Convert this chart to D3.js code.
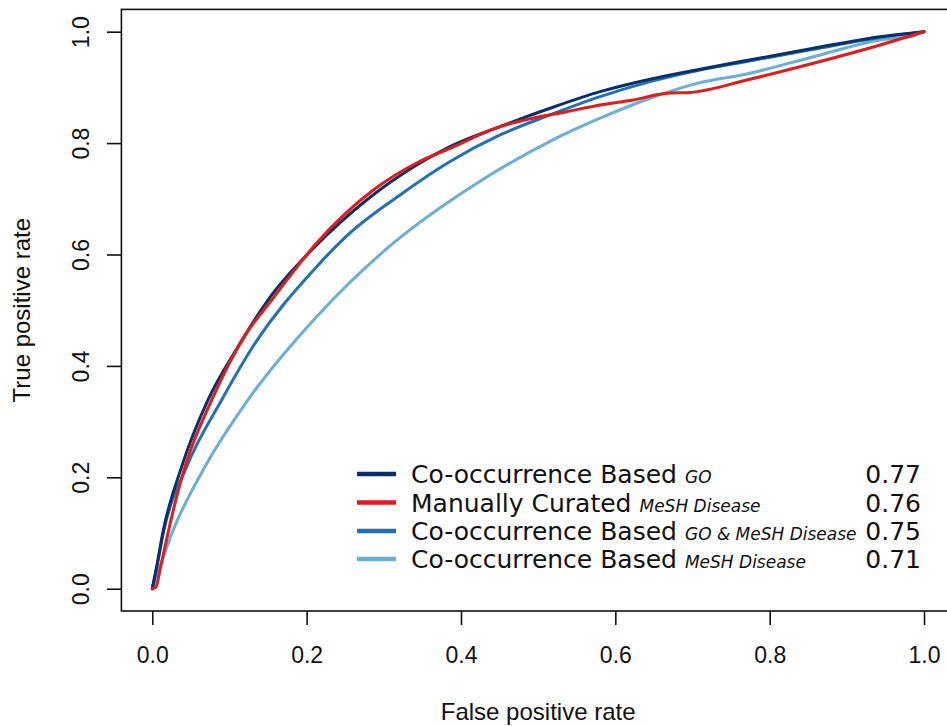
<!DOCTYPE html>
<html>
<head>
<meta charset="utf-8">
<script src="https://cdn.jsdelivr.net/npm/d3@7"></script>
<style>
  body { margin: 0; background: #fff; }
  svg { display: block; }
</style>
</head>
<body>
<script>
// ROC curves: false positive rate (x) vs true positive rate (y) per method
const goFpr   = [0, 0.0057, 0.0135, 0.0381, 0.0722, 0.1101, 0.1499, 0.2130, 0.2778, 0.3426, 0.3858, 0.4506, 0.5154, 0.5802, 0.6450, 0.7098, 0.7703, 0.8566, 0.9430, 1];
const goTpr   = [0, 0.0397, 0.0996, 0.2192, 0.3389, 0.4322, 0.5183, 0.6171, 0.6979, 0.7607, 0.7936, 0.8295, 0.8625, 0.8923, 0.9146, 0.9325, 0.9483, 0.9702, 0.9910, 1];

const curFpr  = [0, 0.0048, 0.0109, 0.0203, 0.0350, 0.0424, 0.0770, 0.1223, 0.1547, 0.2130, 0.2864, 0.3426, 0.3858, 0.4506, 0.4933, 0.5370, 0.5802, 0.6229, 0.6666, 0.6968, 0.7703, 0.8566, 0.9430, 0.9819, 1];
const curTpr  = [0, 0.0032, 0.0397, 0.0996, 0.1833, 0.2192, 0.3389, 0.4592, 0.5183, 0.6207, 0.7158, 0.7643, 0.7907, 0.8295, 0.8446, 0.8564, 0.8685, 0.8774, 0.8894, 0.8909, 0.9133, 0.9433, 0.9761, 0.9923, 1];

const bothFpr = [0, 0.0061, 0.0143, 0.0446, 0.0899, 0.1292, 0.2130, 0.2562, 0.3210, 0.3858, 0.4506, 0.5154, 0.5802, 0.6450, 0.7098, 0.7703, 0.8566, 0.9430, 1];
const bothTpr = [0, 0.0397, 0.0996, 0.2192, 0.3389, 0.4322, 0.5782, 0.6387, 0.7069, 0.7670, 0.8146, 0.8505, 0.8833, 0.9103, 0.9313, 0.9465, 0.9684, 0.9896, 1];

const meshFpr = [0, 0.0100, 0.0255, 0.0683, 0.1240, 0.2130, 0.2993, 0.4247, 0.5154, 0.5802, 0.6450, 0.7098, 0.7703, 0.8566, 0.9430, 0.9858, 1];
const meshTpr = [0, 0.0397, 0.0996, 0.2192, 0.3389, 0.4884, 0.6051, 0.7314, 0.8032, 0.8446, 0.8805, 0.9085, 0.9241, 0.9551, 0.9851, 0.9923, 1];

// Legend contents
const legendMain = ["Co-occurrence Based", "Manually Curated", "Co-occurrence Based", "Co-occurrence Based"];
const legendSub  = ["GO", "MeSH Disease", "GO & MeSH Disease", "MeSH Disease"];
const aucLabels  = ["0.77", "0.76", "0.75", "0.71"];
const seriesColors = ["#08306b", "#e41a1c", "#2171b5", "#6baed6"];

const xTicks = [0, 0.2, 0.4, 0.6, 0.8, 1.0];
const yTicks = [0, 0.2, 0.4, 0.6, 0.8, 1.0];

const W = 947, H = 726;
const plotLeft = 121.4, plotRight = 954.9, plotTop = 9.4, plotBottom = 611;

const x = d3.scaleLinear().domain([-0.04, 1.04]).range([plotLeft, plotRight]);
const y = d3.scaleLinear().domain([-0.04, 1.04]).range([plotBottom, plotTop]);

const svg = d3.select("body").append("svg")
  .attr("width", W).attr("height", H)
  .attr("viewBox", `0 0 ${W} ${H}`);

const axisFont = "'Liberation Sans', Arial, Helvetica, sans-serif";
const legendFont = "'DejaVu Sans', 'Noto Sans', sans-serif";

// Curves (drawn back to front)
const series = [
  { fpr: meshFpr, tpr: meshTpr, color: seriesColors[3] },
  { fpr: bothFpr, tpr: bothTpr, color: seriesColors[2] },
  { fpr: goFpr,   tpr: goTpr,   color: seriesColors[0] },
  { fpr: curFpr,  tpr: curTpr,  color: seriesColors[1] }
];

const line = d3.line()
  .x(d => x(d[0]))
  .y(d => y(d[1]))
  .curve(d3.curveMonotoneX);

svg.append("g").selectAll("path")
  .data(series)
  .join("path")
  .attr("d", s => line(s.fpr.map((f, i) => [f, s.tpr[i]])))
  .attr("fill", "none")
  .attr("stroke", s => s.color)
  .attr("stroke-width", 3)
  .attr("stroke-linejoin", "round")
  .attr("stroke-linecap", "round");

// Plot frame
svg.append("rect")
  .attr("x", plotLeft).attr("y", plotTop)
  .attr("width", plotRight - plotLeft).attr("height", plotBottom - plotTop)
  .attr("fill", "none").attr("stroke", "#111").attr("stroke-width", 1.6);

// X axis
const gx = svg.append("g")
  .attr("transform", `translate(0,${plotBottom})`)
  .call(d3.axisBottom(x).tickValues(xTicks).tickSize(14).tickPadding(22).tickFormat(d3.format(".1f")));
gx.select(".domain").remove();
gx.selectAll(".tick line").attr("stroke", "#111").attr("stroke-width", 1.6);
gx.selectAll(".tick text")
  .attr("font-family", axisFont).attr("font-size", 23).attr("fill", "#111");

// Y axis (labels parallel to the axis)
const gy = svg.append("g")
  .attr("transform", `translate(${plotLeft},0)`)
  .call(d3.axisLeft(y).tickValues(yTicks).tickSize(14.5).tickFormat(d3.format(".1f")));
gy.select(".domain").remove();
gy.selectAll(".tick line").attr("stroke", "#111").attr("stroke-width", 1.6);
gy.selectAll(".tick text")
  .attr("x", null).attr("dy", null).attr("y", 0)
  .attr("transform", `translate(${88.5 - plotLeft},0) rotate(-90)`)
  .attr("text-anchor", "middle")
  .attr("font-family", axisFont).attr("font-size", 23).attr("fill", "#111");

// Axis titles
svg.append("text")
  .attr("x", (plotLeft + plotRight) / 2).attr("y", 720)
  .attr("text-anchor", "middle")
  .attr("font-family", axisFont).attr("font-size", 24).attr("fill", "#111")
  .text("False positive rate");

svg.append("text")
  .attr("transform", `translate(30,${(plotTop + plotBottom) / 2}) rotate(-90)`)
  .attr("text-anchor", "middle")
  .attr("font-family", axisFont).attr("font-size", 24).attr("fill", "#111")
  .text("True positive rate");

// Legend
const legendRowY = [474, 502.5, 531, 559];
const legend = svg.append("g");
legendMain.forEach((label, i) => {
  const ly = legendRowY[i];
  legend.append("line")
    .attr("x1", 357).attr("x2", 396)
    .attr("y1", ly).attr("y2", ly)
    .attr("stroke", seriesColors[i]).attr("stroke-width", 4.5);
  const t = legend.append("text")
    .attr("x", 411).attr("y", ly + 9)
    .attr("font-family", legendFont).attr("font-size", 25).attr("fill", "#111");
  t.append("tspan").text(label);
  t.append("tspan")
    .attr("dx", 8)
    .attr("font-size", 17).attr("font-style", "italic")
    .text(legendSub[i]);
  legend.append("text")
    .attr("x", 921).attr("y", ly + 9)
    .attr("text-anchor", "end")
    .attr("font-family", legendFont).attr("font-size", 25).attr("fill", "#111")
    .text(aucLabels[i]);
});
</script>
</body>
</html>
